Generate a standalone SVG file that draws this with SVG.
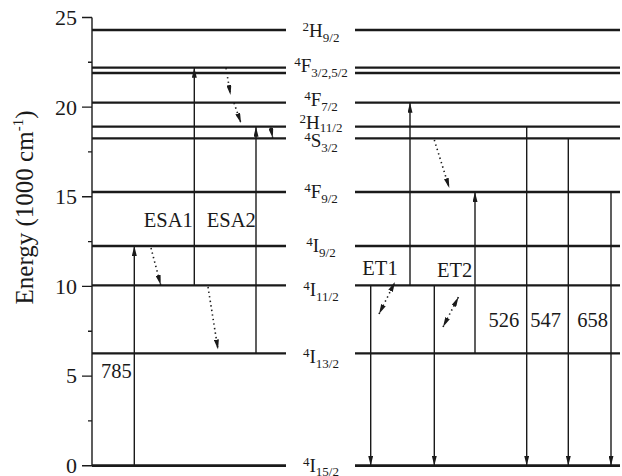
<svg xmlns="http://www.w3.org/2000/svg" width="622" height="476" viewBox="0 0 622 476" font-family="'Liberation Serif', 'Times New Roman', serif">
<style>
text{font-family:'Liberation Serif','Times New Roman',serif;fill:#1a1a1a}
.tk{font-size:22px;text-anchor:end}
.lb{font-size:20.5px;text-anchor:middle}
.lv{font-size:19px;text-anchor:middle}
.s{font-size:13px}
.lvl{stroke:#1a1a1a;stroke-width:2.3;fill:none}
.ax{stroke:#1a1a1a;stroke-width:1.4;fill:none}
.ar{stroke:#1a1a1a;stroke-width:1.4;fill:none;marker-end:url(#ah)}
.dt{stroke:#1a1a1a;stroke-width:1.6;fill:none;stroke-dasharray:1.4 3.2;marker-end:url(#ah)}
.dd{stroke:#1a1a1a;stroke-width:1.6;fill:none;stroke-dasharray:1.4 3.2;marker-end:url(#ah);marker-start:url(#ahs)}
</style>
<defs>
<marker id="ah" viewBox="0 0 10 5" refX="10" refY="2.5" markerWidth="10" markerHeight="5" markerUnits="userSpaceOnUse" orient="auto"><path d="M0,0 L10,2.5 L0,5 z" fill="#1a1a1a"/></marker>
<marker id="ahs" viewBox="0 0 10 5" refX="0" refY="2.5" markerWidth="10" markerHeight="5" markerUnits="userSpaceOnUse" orient="auto"><path d="M10,0 L0,2.5 L10,5 z" fill="#1a1a1a"/></marker>
</defs>
<g id="axis">
<path class="ax" d="M92,17.5 V465.7 M82,17.5 H92 M82,107.1 H92 M82,196.8 H92 M82,286.4 H92 M82,376.1 H92 M82,465.7 H92 M88,62.3 H92 M88,151.9 H92 M88,241.6 H92 M88,331.2 H92 M88,420.9 H92"/>
<text class="tk" x="77" y="25">25</text>
<text class="tk" x="77" y="114.5">20</text>
<text class="tk" x="77" y="204">15</text>
<text class="tk" x="77" y="293.7">10</text>
<text class="tk" x="77" y="383.4">5</text>
<text class="tk" x="77" y="472.5">0</text>
<text transform="translate(33,207.5) rotate(-90)" style="font-size:25px;text-anchor:middle">Energy (1000 cm<tspan style="font-size:15px" dy="-10">-1</tspan><tspan dy="10">)</tspan></text>
</g>
<g id="levels">
<path class="lvl" d="M92,30 H286 M355,30 H620"/>
<path class="lvl" d="M92,67.7 H286 M355,67.7 H620 M92,73 H286 M355,73 H620"/>
<path class="lvl" d="M92,102.7 H286 M355,102.7 H620"/>
<path class="lvl" d="M92,126.7 H286 M355,126.7 H620"/>
<path class="lvl" d="M92,138.3 H286 M355,138.3 H620"/>
<path class="lvl" d="M92,192 H286 M355,192 H620"/>
<path class="lvl" d="M92,246 H286 M355,246 H620"/>
<path class="lvl" d="M92,285.3 H286 M355,285.3 H620"/>
<path class="lvl" d="M92,353.3 H286 M355,353.3 H620"/>
<path class="lvl" style="stroke-width:2.8" d="M92,465.7 H286 M355,465.7 H620"/>
</g>
<g id="level-labels">
<text class="lv" x="321" y="37.3"><tspan class="s" dy="-6">2</tspan><tspan dy="6">H</tspan><tspan class="s" dy="5">9/2</tspan></text>
<text class="lv" x="321" y="71.7"><tspan class="s" dy="-6">4</tspan><tspan dy="6">F</tspan><tspan class="s" dy="5">3/2,5/2</tspan></text>
<text class="lv" x="321" y="106"><tspan class="s" dy="-6">4</tspan><tspan dy="6">F</tspan><tspan class="s" dy="5">7/2</tspan></text>
<text class="lv" x="321" y="129.3"><tspan class="s" dy="-6">2</tspan><tspan dy="6">H</tspan><tspan class="s" dy="3">11/2</tspan></text>
<text class="lv" x="321" y="146.7"><tspan class="s" dy="-6">4</tspan><tspan dy="6">S</tspan><tspan class="s" dy="5">3/2</tspan></text>
<text class="lv" x="321" y="198"><tspan class="s" dy="-6">4</tspan><tspan dy="6">F</tspan><tspan class="s" dy="5">9/2</tspan></text>
<text class="lv" x="321" y="251.7"><tspan class="s" dy="-6">4</tspan><tspan dy="6">I</tspan><tspan class="s" dy="5">9/2</tspan></text>
<text class="lv" x="321" y="296"><tspan class="s" dy="-6">4</tspan><tspan dy="6">I</tspan><tspan class="s" dy="5">11/2</tspan></text>
<text class="lv" x="321" y="363"><tspan class="s" dy="-6">4</tspan><tspan dy="6">I</tspan><tspan class="s" dy="5">13/2</tspan></text>
<text class="lv" x="321" y="472"><tspan class="s" dy="-6">4</tspan><tspan dy="6">I</tspan><tspan class="s" dy="3.5">15/2</tspan></text>
</g>
<g id="connectors">
<line class="ar" x1="134.3" y1="465.7" x2="134.3" y2="246"/>
<line class="ar" x1="194.3" y1="285.3" x2="194.3" y2="67.7"/>
<line class="ar" x1="256" y1="353.3" x2="256" y2="126.7"/>
<line class="ar" x1="410" y1="285.3" x2="410" y2="102.7"/>
<line class="ar" x1="475" y1="353.3" x2="475" y2="192"/>
<line class="ar" x1="370.7" y1="285.3" x2="370.7" y2="465.7"/>
<line class="ar" x1="434.3" y1="285.3" x2="434.3" y2="465.7"/>
<line class="ar" x1="526.7" y1="126.7" x2="526.7" y2="465.7"/>
<line class="ar" x1="568.3" y1="138.3" x2="568.3" y2="465.7"/>
<line class="ar" x1="611" y1="192" x2="611" y2="465.7"/>
<line class="dt" x1="226" y1="68" x2="230.5" y2="95"/>
<line class="dt" x1="234" y1="103" x2="241" y2="123"/>
<line class="dt" x1="270.7" y1="127.5" x2="272.7" y2="138"/>
<line class="dt" x1="151" y1="248" x2="160.7" y2="285"/>
<line class="dt" x1="208" y1="287" x2="218" y2="349.5"/>
<line class="dt" x1="434.3" y1="140" x2="449.3" y2="188"/>
<line class="dd" x1="379" y1="314" x2="395" y2="282"/>
<line class="dd" x1="443" y1="327" x2="458.5" y2="297"/>
</g>
<g id="transition-labels">
<text class="lb" x="168.3" y="226.5">ESA1</text>
<text class="lb" x="231.3" y="226.5">ESA2</text>
<text class="lb" x="116.3" y="377.7">785</text>
<text class="lb" x="380" y="274.5">ET1</text>
<text class="lb" x="454.7" y="276.5">ET2</text>
<text class="lb" x="503.8" y="326.7">526</text>
<text class="lb" x="545.5" y="326.7">547</text>
<text class="lb" x="592.5" y="326.7">658</text>
</g>
</svg>
